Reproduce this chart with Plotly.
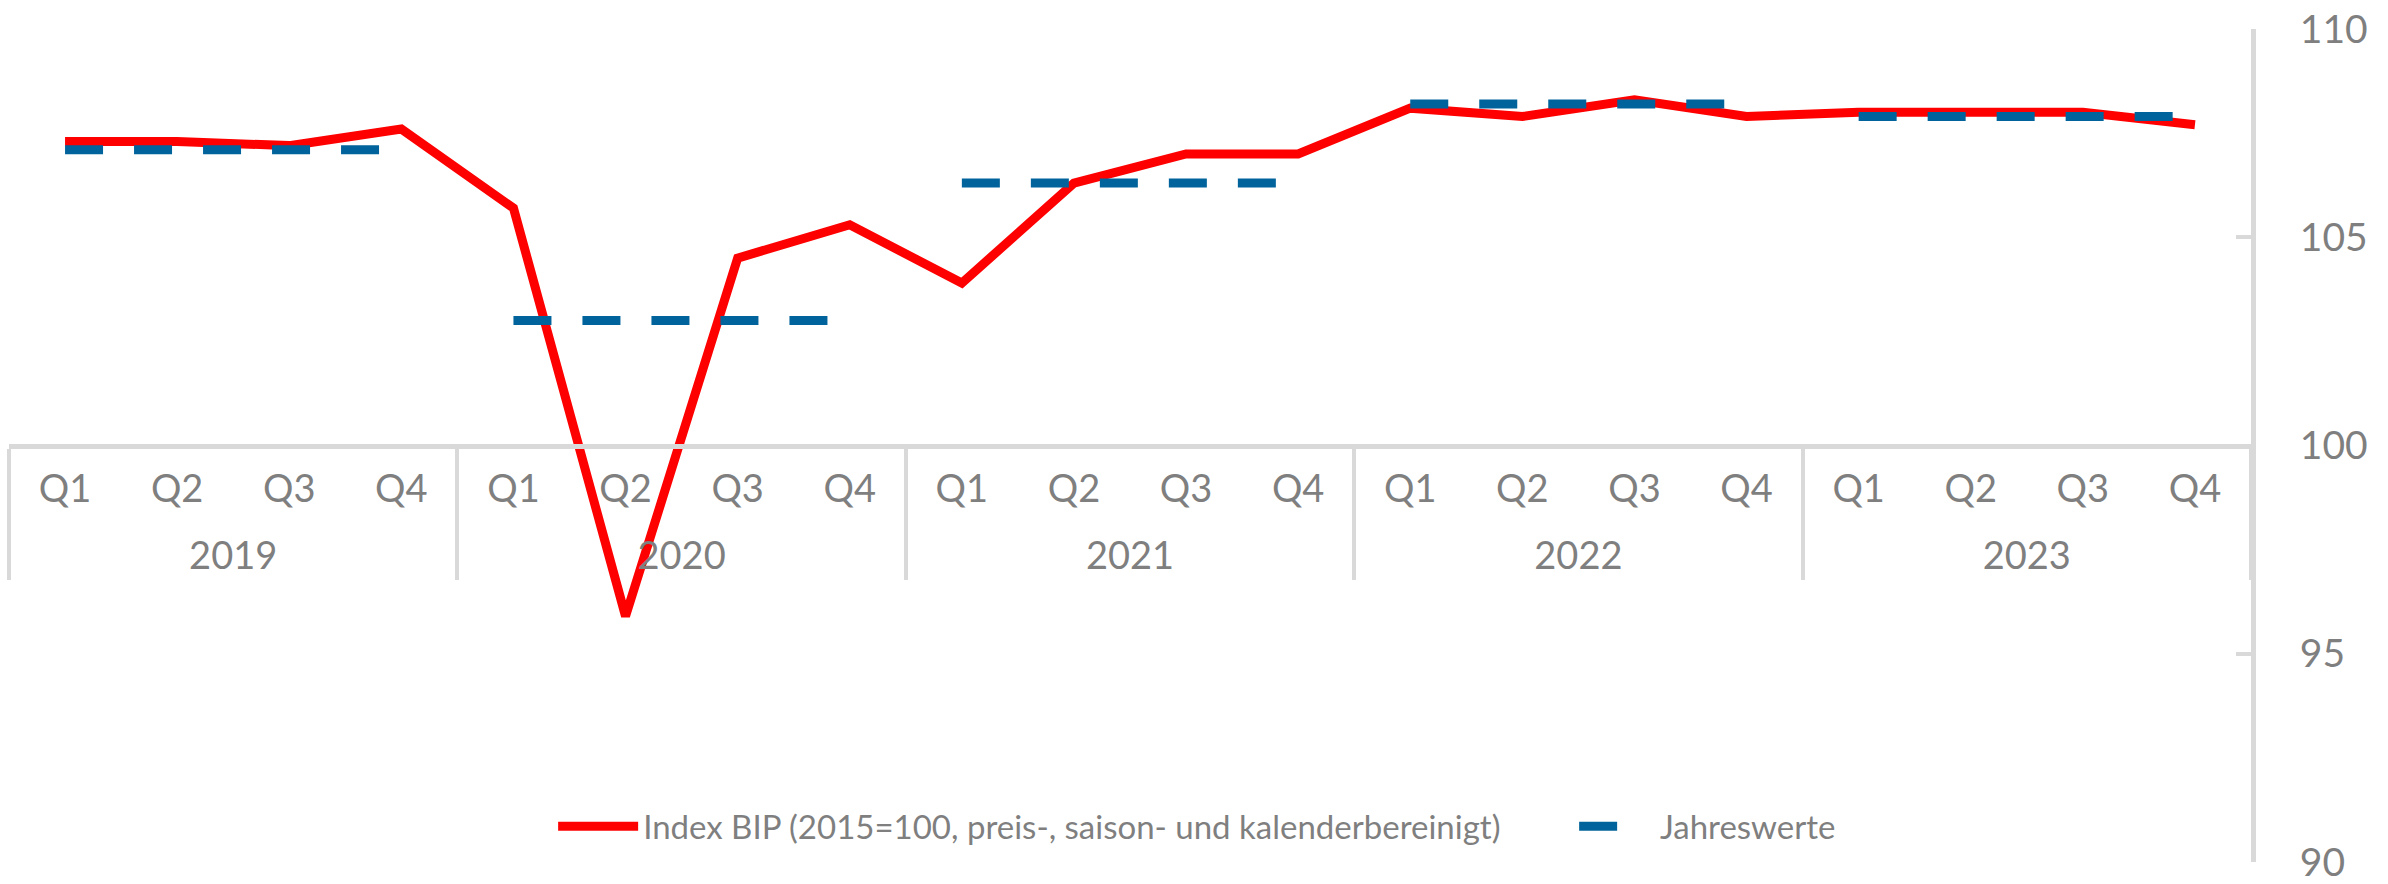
import plotly.graph_objects as go

years = ["2019", "2020", "2021", "2022", "2023"]
quarters = ["Q1", "Q2", "Q3", "Q4"]
bip_index = [107.3, 107.3, 107.2, 107.6,
             105.7, 95.9, 104.5, 105.3,
             103.9, 106.3, 107.0, 107.0,
             108.1, 107.9, 108.3, 107.9,
             108.0, 108.0, 108.0, 107.7]
annual_values = [107.1, 103.0, 106.3, 108.2, 107.9]
y_ticks = [90, 95, 100, 105, 110]

name_bip = "Index BIP (2015=100, preis-, saison- und kalenderbereinigt)"
name_annual = "Jahreswerte"

RED = "#ff0000"
BLUE = "#00639b"
GRID = "#d9d9d9"
TXT = "#7f7f7f"
FONT = "Lato, 'Noto Sans', Roboto, sans-serif"

# second-level (year) labels pushed slightly lower, like the reference
year_labels = ['<span style="baseline-shift:-27px">%s</span>' % y for y in years]

x_years = [y for y in year_labels for _ in quarters]
x_quarters = [q for _ in years for q in quarters]

fig = go.Figure()
fig.add_trace(go.Scatter(
    x=[x_years, x_quarters], y=bip_index, mode="lines", name=name_bip,
    line=dict(color=RED, width=9), hoverinfo="skip", legend="legend"))

for i, (yr, val) in enumerate(zip(year_labels, annual_values)):
    fig.add_trace(go.Scatter(
        x=[[yr] * 4, quarters], y=[val] * 4, mode="lines",
        name="\u00a0\u00a0\u00a0\u00a0" + name_annual,
        legendgroup="annual", showlegend=(i == 0), legend="legend2",
        line=dict(color=BLUE, width=9, dash="38px,31px"), hoverinfo="skip"))

fig.update_layout(
    width=2388, height=884,
    margin=dict(l=9, r=137, t=29, b=22, autoexpand=False),
    paper_bgcolor="white", plot_bgcolor="white",
    font=dict(family=FONT, color=TXT, size=38),
    showlegend=True,
    legend=dict(orientation="h", x=0.2427, xanchor="left", y=0.043, yanchor="middle",
                font=dict(size=33, color=TXT), itemwidth=80,
                bgcolor="rgba(0,0,0,0)"),
    legend2=dict(orientation="h", x=0.6981, xanchor="left", y=0.043, yanchor="middle",
                 font=dict(size=33, color=TXT), itemwidth=43,
                 bgcolor="rgba(0,0,0,0)"),
    xaxis=dict(type="multicategory", anchor="free", position=0.5, automargin=False,
               range=[-0.5, len(bip_index) - 0.5],
               showline=True, linecolor=GRID, linewidth=5,
               showgrid=False, zeroline=False, ticks="", ticklabelstandoff=8,
               showdividers=True, dividercolor=GRID, dividerwidth=4,
               tickfont=dict(size=38, color=TXT, family=FONT)),
    yaxis=dict(side="right", range=[90, 110], tickvals=y_ticks, automargin=False,
               showline=True, linecolor=GRID, linewidth=5, mirror=False,
               ticks="inside", ticklen=15, tickwidth=4, tickcolor=GRID,
               showgrid=False, zeroline=False, ticklabelstandoff=36,
               tickfont=dict(size=39, color=TXT, family=FONT)),
)

fig.write_html("out.html", config={"displayModeBar": False},
               post_script="document.body.style.margin='0';")
